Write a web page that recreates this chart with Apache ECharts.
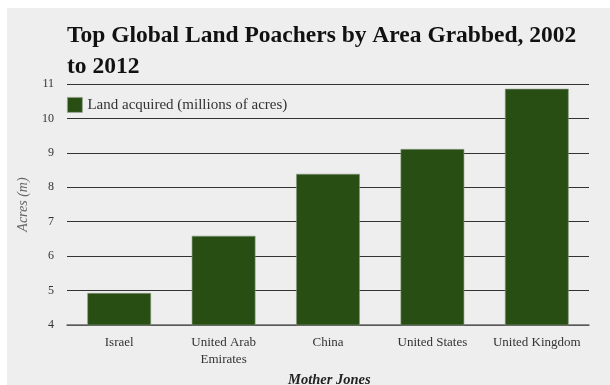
<!DOCTYPE html>
<html><head><meta charset="utf-8">
<script src="https://cdn.jsdelivr.net/npm/echarts@6/dist/echarts.min.js"></script>
<style>html,body{margin:0;padding:0;background:#fff}#c{width:610px;height:385px}</style>
</head><body><div id="c"></div>
<script>
var categories = ["Israel", "United Arab\nEmirates", "China", "United States", "United Kingdom"];
var values = [4.93, 6.59, 8.39, 9.11, 10.86];
var yTicks = [4, 5, 6, 7, 8, 9, 10, 11];
var seriesName = "Land acquired (millions of acres)";
var titleText = "Top Global Land Poachers by Area Grabbed, 2002\nto 2012";
var yAxisName = "Acres (m)";
var sourceText = "Mother Jones";

var serif = '"Liberation Serif", "DejaVu Serif", serif';
var chart = echarts.init(document.getElementById('c'), null, {renderer: 'canvas'});
chart.setOption({
  backgroundColor: '#ffffff',
  animation: false,
  graphic: [
    {type: 'rect', left: 7, top: 8, shape: {width: 603, height: 377}, style: {fill: '#eeeeee'}, z: -10, silent: true},
    {type: 'text', left: 288, top: 373, style: {text: sourceText, font: 'italic bold 14.5px ' + serif, fill: '#222'}}
  ],
  title: {
    text: titleText,
    left: 62, top: 15,
    textStyle: {fontFamily: serif, fontWeight: 'bold', fontSize: 23.5, color: '#111', lineHeight: 31}
  },
  legend: {
    left: 62, top: 92,
    itemWidth: 15, itemHeight: 15, itemGap: 6,
    icon: 'rect',
    itemStyle: {borderWidth: 0.8, borderColor: '#9aa890'},
    textStyle: {fontFamily: serif, fontSize: 15, color: '#333'},
    data: [seriesName]
  },
  grid: {left: 67, right: 21, top: 84, bottom: 60, containLabel: false},
  xAxis: {
    type: 'category',
    data: categories,
    axisLine: {lineStyle: {color: '#666', width: 1.5}},
    axisTick: {show: false},
    axisLabel: {fontFamily: serif, fontSize: 13, color: '#333', margin: 9, lineHeight: 17, interval: 0}
  },
  yAxis: {
    type: 'value',
    min: yTicks[0], max: yTicks[yTicks.length - 1], interval: 1,
    name: yAxisName,
    nameLocation: 'middle',
    nameGap: 37,
    nameTextStyle: {fontFamily: serif, fontStyle: 'italic', fontSize: 14, color: '#666'},
    axisLine: {show: false},
    axisTick: {show: false},
    axisLabel: {fontFamily: serif, fontSize: 12, color: '#333', margin: 13},
    splitLine: {lineStyle: {color: '#333', width: 1.2}}
  },
  series: [{
    name: seriesName,
    type: 'bar',
    data: values,
    barWidth: '61%',
    itemStyle: {color: '#284e14', borderColor: '#8a9a80', borderWidth: 0.6}
  }]
});
</script></body></html>
